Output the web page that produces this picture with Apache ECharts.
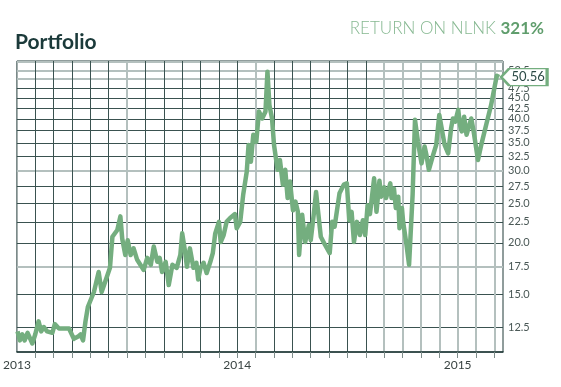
<!DOCTYPE html>
<html>
<head>
<meta charset="utf-8">
<script src="https://cdn.jsdelivr.net/npm/echarts@6/dist/echarts.min.js"></script>
<style>html,body{margin:0;padding:0;background:#fff}#c{width:561px;height:387px}</style>
</head>
<body>
<div id="c"></div>
<script>
const dates = ["2013-01-02","2013-01-06","2013-01-10","2013-01-14","2013-01-19","2013-01-27","2013-02-01","2013-02-06","2013-02-10","2013-02-14","2013-02-19","2013-02-27","2013-03-03","2013-03-10","2013-03-27","2013-04-04","2013-04-11","2013-04-15","2013-04-19","2013-04-23","2013-04-27","2013-05-07","2013-05-15","2013-05-20","2013-05-26","2013-06-03","2013-06-07","2013-06-15","2013-06-20","2013-06-23","2013-06-28","2013-07-02","2013-07-07","2013-07-12","2013-07-18","2013-07-29","2013-08-04","2013-08-10","2013-08-15","2013-08-21","2013-08-25","2013-08-29","2013-09-04","2013-09-09","2013-09-15","2013-09-22","2013-09-28","2013-10-01","2013-10-06","2013-10-09","2013-10-14","2013-10-20","2013-10-25","2013-10-28","2013-11-01","2013-11-06","2013-11-11","2013-11-17","2013-11-21","2013-11-25","2013-12-01","2013-12-04","2013-12-09","2013-12-14","2013-12-20","2013-12-28","2013-12-31","2014-01-06","2014-01-11","2014-01-17","2014-01-20","2014-01-24","2014-01-28","2014-02-02","2014-02-06","2014-02-11","2014-02-16","2014-02-19","2014-02-22","2014-02-26","2014-03-01","2014-03-07","2014-03-11","2014-03-16","2014-03-20","2014-03-24","2014-03-28","2014-04-02","2014-04-06","2014-04-10","2014-04-12","2014-04-17","2014-04-22","2014-04-28","2014-05-01","2014-05-06","2014-05-10","2014-05-14","2014-05-18","2014-05-25","2014-06-02","2014-06-06","2014-06-10","2014-06-18","2014-06-25","2014-06-30","2014-07-04","2014-07-08","2014-07-12","2014-07-17","2014-07-22","2014-07-27","2014-07-31","2014-08-04","2014-08-08","2014-08-15","2014-08-19","2014-08-24","2014-08-27","2014-09-01","2014-09-04","2014-09-08","2014-09-11","2014-09-13","2014-09-17","2014-09-20","2014-09-24","2014-09-26","2014-09-30","2014-10-02","2014-10-07","2014-10-12","2014-10-18","2014-10-22","2014-10-27","2014-11-02","2014-11-07","2014-11-10","2014-11-14","2014-11-21","2014-11-26","2014-12-01","2014-12-05","2014-12-10","2014-12-16","2014-12-21","2014-12-24","2014-12-28","2015-01-02","2015-01-05","2015-01-08","2015-01-12","2015-01-16","2015-01-20","2015-01-24","2015-01-28","2015-02-04","2015-02-09","2015-02-17","2015-02-24","2015-03-01","2015-03-05","2015-03-09"];
const values = [12.2,11.6,12.0,11.6,12.1,11.4,12.0,12.9,12.2,12.5,12.2,12.1,12.7,12.4,12.4,11.7,11.85,12.0,11.6,12.9,14.0,15.2,17.0,15.2,16.1,17.4,20.7,21.5,23.2,20.5,18.7,20.3,18.7,19.4,18.2,17.2,18.4,17.7,19.6,18.0,18.4,17.0,18.0,15.8,17.7,17.4,18.7,21.1,19.0,17.5,19.4,17.4,17.9,16.3,17.4,17.9,16.9,18.0,18.9,21.1,22.5,20.1,20.9,22.5,23.0,23.5,21.7,22.5,26.2,29.8,34.6,31.5,36.6,35.2,41.7,40.1,41.7,52.1,43.2,40.1,34.6,30.1,31.8,27.7,30.1,25.7,28.2,24.0,25.2,23.8,18.7,23.4,20.1,22.1,20.3,23.4,26.6,23.4,20.7,19.8,18.9,22.5,21.9,26.4,27.7,27.9,22.7,23.8,20.1,22.5,20.9,22.7,20.9,24.7,23.5,28.7,23.8,28.3,25.9,27.3,25.7,26.9,27.9,25.7,27.1,24.3,25.9,21.7,24.3,22.5,20.1,17.7,26.2,39.8,35.2,31.2,34.3,32.7,30.1,32.7,34.6,40.9,38.0,34.6,33.0,38.0,40.1,39.4,42.1,38.7,37.3,40.5,36.6,38.3,40.1,37.3,31.8,34.6,39.0,43.2,47.5,50.9,50.56];
const yTicks = [12.5,15,17.5,20,22.5,25,27.5,30,32.5,35,37.5,40,42.5,45,47.5,50,52.5,55];
const yGreyTicks = [17.5,30,50,52.5,55];
const yearLabels = ["2013","2014","2015"];
const titleText = "Portfolio";
const returnLabel = "RETURN ON NLNK";
const returnValue = "321%";
const lastLabel = "50.56";

const startYear = 2013;
function monthIndex(s){
  const [y,m,d] = s.split('-').map(Number);
  const dim = new Date(y, m, 0).getDate();
  return (y-startYear)*12 + (m-1) + (d-1)/dim;
}
const dark = '#3a5250', grey = '#b4c0be', green = '#74ae7f', tickCol = '#7d8c8a';
const xMax = 26.47;
const allMonths = []; for (let i=1;i<=26;i++) allMonths.push(i);
const greyMonths = allMonths.filter(i => i===6 || i===13 || i>=20);
const darkMonths = allMonths.filter(i => !greyMonths.includes(i));
const yDarkTicks = yTicks.filter(t => !yGreyTicks.includes(t));
const ln = Math.log;

const data = dates.map((d,i)=>[monthIndex(d), ln(values[i])]);
const last = data[data.length-1];
const yMin = ln(10.87), yMax = ln(55.3);

const chart = echarts.init(document.getElementById('c'), null, {renderer:'canvas'});
chart.setOption({
  animation:false,
  title:[
    {text:titleText,left:15,top:32,padding:0,textStyle:{fontFamily:'Lato, sans-serif',fontSize:21,fontWeight:'bold',color:'#1b3a3a'}},
    {text:'{a|'+returnLabel+' }{b|'+returnValue+'}',right:17,top:20,padding:0,textStyle:{rich:{
      a:{fontFamily:'Lato',fontSize:17,fontWeight:300,color:'#86b891'},
      b:{fontFamily:'Lato',fontSize:17,fontWeight:'bold',color:'#5f9d6c'}}}}
  ],
  grid:{left:16,right:58,top:61,bottom:35,show:true,borderColor:'#203a38',borderWidth:1,backgroundColor:'transparent'},
  xAxis:[
    {type:'value',position:'bottom',min:0,max:xMax,
      axisLine:{show:true,lineStyle:{color:'#203a38',width:1.5}},
      axisTick:{show:true,length:6,customValues:darkMonths,lineStyle:{color:tickCol,width:1}},
      axisLabel:{customValues:[0,12,24],margin:7,fontFamily:'Lato',fontSize:12,color:'#3a4443',
        formatter:v=> yearLabels[Math.round(v/12)] || ''},
      splitLine:{show:true,lineStyle:{color:dark,width:1}}
    },
    {type:'value',position:'bottom',min:0,max:xMax,
      axisLine:{show:false},
      axisTick:{show:true,length:6,customValues:greyMonths,lineStyle:{color:tickCol,width:1}},
      axisLabel:{show:false},
      splitLine:{show:true,lineStyle:{color:grey,width:2}}
    }
  ],
  yAxis:[
    {type:'value',position:'right',min:yMin,max:yMax,
      axisLine:{show:false},
      axisTick:{show:false,customValues:yDarkTicks.map(ln)},
      axisLabel:{customValues:yTicks.map(ln),margin:5,fontFamily:'Lato',fontSize:11,color:'#4a5856',
        formatter:v=>Math.exp(v).toFixed(1)},
      splitLine:{show:true,lineStyle:{color:dark,width:1}}
    },
    {type:'value',position:'right',min:yMin,max:yMax,
      axisLine:{show:false},
      axisTick:{show:false,customValues:yGreyTicks.map(ln)},
      axisLabel:{show:false},
      splitLine:{show:true,lineStyle:{color:grey,width:2}}
    }
  ],
  series:[{type:'line',xAxisIndex:0,yAxisIndex:0,data:data,showSymbol:false,symbol:'none',
    lineStyle:{color:green,width:4.5,join:'round'},
    z:3,
    markPoint:{symbol:'path://M0,9 L8,0 L46,0 L46,18 L8,18 Z',symbolSize:[46,17],symbolOffset:[25,0],
      silent:true,
      itemStyle:{color:'#ffffff',borderColor:green,borderWidth:2},
      label:{show:true,position:'inside',formatter:lastLabel,offset:[4,0],fontFamily:'Lato',fontSize:13,color:'#2c4a46'},
      data:[{coord:last}]
    }
  }]
});
</script>
</body>
</html>
